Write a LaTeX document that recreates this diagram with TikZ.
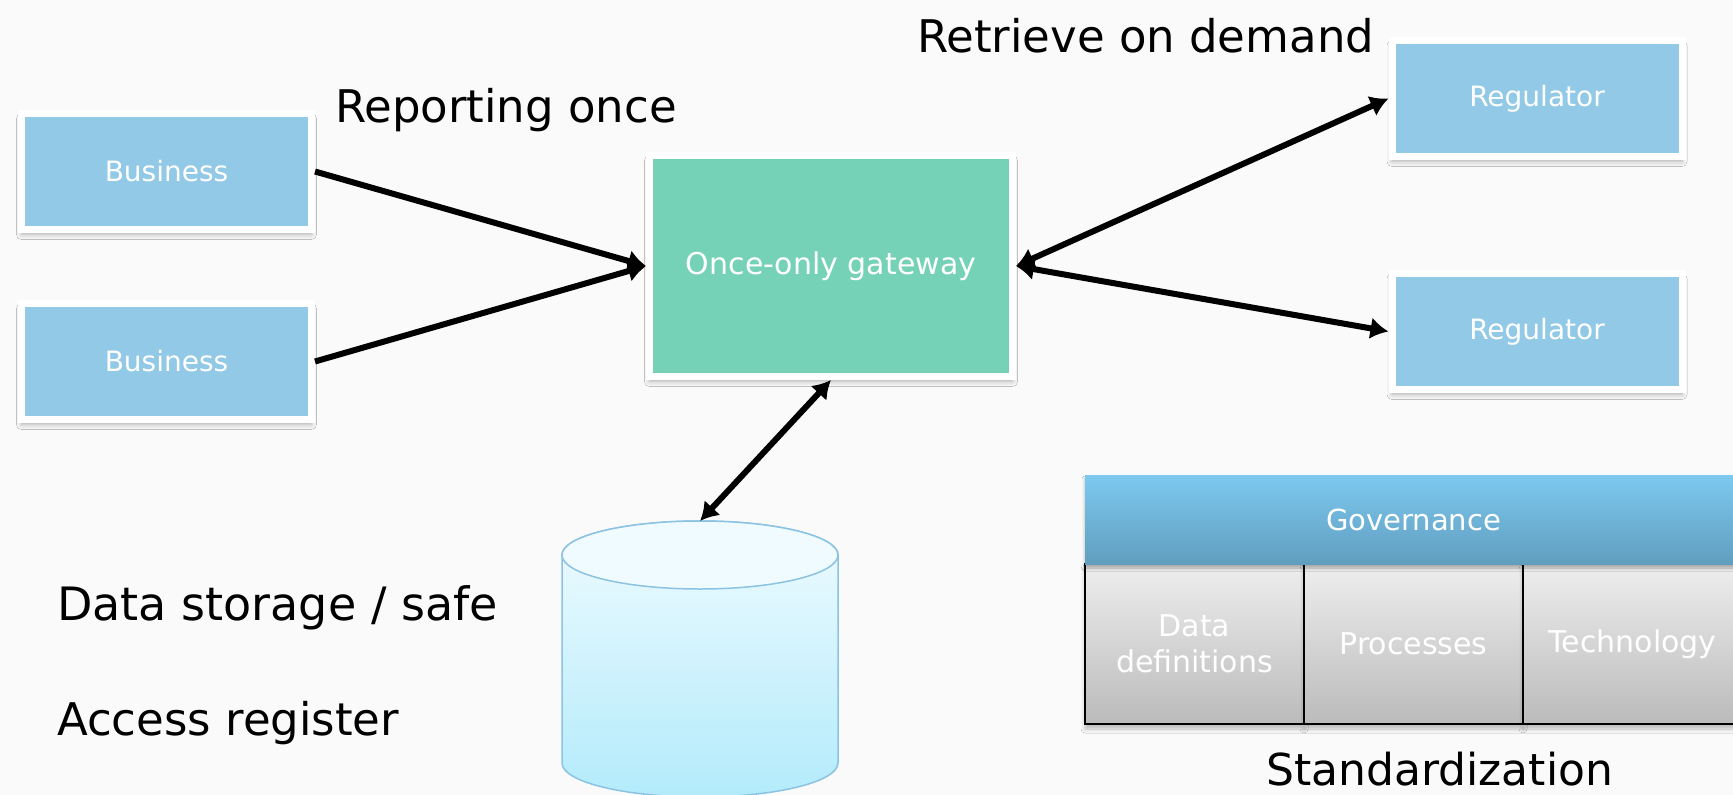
\documentclass[tikz,border=0pt]{standalone}
\usepackage{fontspec}
\setmainfont{DejaVu Sans}
\usepackage{tikz}
\usetikzlibrary{positioning, arrows.meta, shadows.blur}

\definecolor{paper}{HTML}{FAFAFA}
\definecolor{boxblue}{HTML}{91C9E6}
\definecolor{gwgreen}{HTML}{76D2B6}
\definecolor{dbhi}{HTML}{EFFBFF}
\definecolor{dblo}{HTML}{B3EBFB}
\definecolor{dbline}{HTML}{8CC3E2}
\definecolor{govtop}{HTML}{7DC9EF}
\definecolor{govbottom}{HTML}{609EBF}
\definecolor{celltop}{HTML}{EEEEEE}
\definecolor{cellbottom}{HTML}{BBBBBB}

\begin{document}
\begin{tikzpicture}[x=1pt, y=-1pt, >={Latex[length=18pt,width=22pt]},
  box/.style={draw=white, line width=7pt, fill=boxblue, minimum width=290pt, minimum height=116pt,
    text=white, font=\fontsize{28}{34}\selectfont,
    blur shadow={shadow xshift=0pt, shadow yshift=-5pt, shadow blur radius=5pt, shadow opacity=30}},
  gov/.style={minimum width=657pt, minimum height=89pt, outer sep=0pt, top color=govtop, bottom color=govbottom,
    text=white, font=\fontsize{29}{35}\selectfont,
    blur shadow={shadow xshift=0pt, shadow yshift=-4pt, shadow blur radius=3pt, shadow opacity=30}},
  cell/.style={draw=black, line width=2pt, outer sep=0pt, minimum width=219pt, minimum height=160pt,
    top color=celltop, bottom color=cellbottom, text=white, align=center, font=\fontsize{30}{36}\selectfont,
    blur shadow={shadow xshift=0pt, shadow yshift=-5pt, shadow blur radius=4pt, shadow opacity=25}},
  lbl/.style={inner sep=0pt, anchor=base west, font=\fontsize{45}{54}\selectfont},
  conn/.style={line width=6pt}]
  \useasboundingbox (0,0) rectangle (1733,795);
  \fill[paper] (0,0) rectangle (1733,795);

  % storage drum
  \shade[top color=dbhi, bottom color=dblo, draw=dbline, line width=1.5pt]
    (562,555) -- (562,763) arc[start angle=180, end angle=360, x radius=138pt, y radius=34pt]
    -- (838,555) arc[start angle=0, end angle=180, x radius=138pt, y radius=34pt] -- cycle;
  \draw[dbline, line width=1.5pt, fill=dbhi] (700,555) ellipse[x radius=138pt, y radius=34pt];
  \coordinate (db) at (700,521);

  % senders, gateway and receivers
  \node[box] (biz1) at (166.5,171.5) {Business};
  \node[box, below=67pt of biz1] (biz2) {Business};
  \node[box, fill=gwgreen, minimum width=363pt, minimum height=221pt, font=\fontsize{30}{36}\selectfont] (gw) at (831,266) {Once-only gateway};
  \node[box] (reg1) at (1537,98.5) {Regulator};
  \node[box, below=110pt of reg1] (reg2) {Regulator};

  \draw[conn,->] (biz1.east) -- (gw.west);
  \draw[conn,->] (biz2.east) -- (gw.west);
  \draw[conn,<->] (gw.east) -- (reg1.west);
  \draw[conn,<->] (gw.east) -- (reg2.west);
  \draw[conn,<->] (gw.south) -- (db);

  \node[lbl] (rep) at (335,122) {Reporting once};
  \node[lbl] (ret) at (917,52) {Retrieve on demand};
  \node[lbl, font=\fontsize{46}{55}\selectfont] (stor) at (57,620) {Data storage / safe};
  \node[lbl] (acc) at (57,735) {Access register};

  % standardization block
  \node[cell, anchor=north west] (defs) at (1085,564) {Data\\definitions};
  \node[cell, right=0pt of defs] (proc) {Processes};
  \node[cell, right=0pt of proc] (tech) {Technology};
  \node[gov, above=0pt of proc] (govern) {Governance};
  \node[lbl, font=\fontsize{44}{52}\selectfont] (std) at (1266,785) {Standardization};
\end{tikzpicture}
\end{document}
